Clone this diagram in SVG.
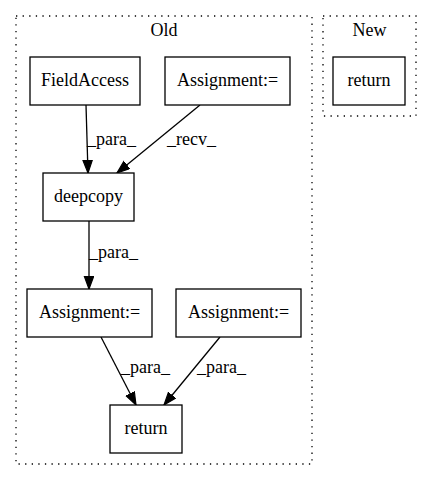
<svg xmlns="http://www.w3.org/2000/svg" width="432" height="480" viewBox="0 0 432 480">
<style>
.c{fill:none;stroke:#000;stroke-dasharray:1.3,5.3;stroke-width:1.3}
.n{fill:#fff;stroke:#000;stroke-width:1.3}
.e{fill:none;stroke:#000;stroke-width:1.3}
</style>
<defs><marker id="a" markerWidth="14" markerHeight="12" refX="13" refY="5" orient="auto" markerUnits="userSpaceOnUse"><path d="M0.5,0.4 L13,5 L0.5,9.6Z" fill="#000" stroke="#000" stroke-width="1.2"/></marker></defs>
<g font-family="Liberation Serif" font-size="18" fill="#000">
<g id="cluster_old"><rect class="c" x="16" y="16" width="296" height="448"/><text x="164" y="36" text-anchor="middle">Old</text></g>
<g id="cluster_new"><rect class="c" x="323" y="16" width="93" height="100"/><text x="369.5" y="36" text-anchor="middle">New</text></g>
<g id="edges">
<path class="e" d="M86,105 L88,173" marker-end="url(#a)"/><text x="87" y="145">_para_</text>
<path class="e" d="M200,105 L117,173" marker-end="url(#a)"/><text x="167" y="145">_recv_</text>
<path class="e" d="M89,221 L89,289" marker-end="url(#a)"/><text x="89" y="258">_para_</text>
<path class="e" d="M101,337 L136,405" marker-end="url(#a)"/><text x="121" y="373">_para_</text>
<path class="e" d="M220,337 L164,405" marker-end="url(#a)"/><text x="197" y="373">_para_</text>
</g>
<g id="n_fieldaccess"><rect class="n" x="30" y="57" width="110" height="48"/><text x="85" y="86" text-anchor="middle">FieldAccess</text></g>
<g id="n_assign_top"><rect class="n" x="165" y="57" width="125" height="48"/><text x="227.5" y="86" text-anchor="middle">Assignment:=</text></g>
<g id="n_new_return"><rect class="n" x="333" y="57" width="72" height="48"/><text x="369" y="86" text-anchor="middle">return</text></g>
<g id="n_deepcopy"><rect class="n" x="43" y="173" width="91" height="48"/><text x="88.5" y="202" text-anchor="middle">deepcopy</text></g>
<g id="n_assign_left"><rect class="n" x="27" y="289" width="125" height="48"/><text x="89.5" y="318" text-anchor="middle">Assignment:=</text></g>
<g id="n_assign_right"><rect class="n" x="176" y="289" width="125" height="48"/><text x="238.5" y="318" text-anchor="middle">Assignment:=</text></g>
<g id="n_return"><rect class="n" x="110" y="405" width="72" height="48"/><text x="146" y="434" text-anchor="middle">return</text></g>
</g>
</svg>
